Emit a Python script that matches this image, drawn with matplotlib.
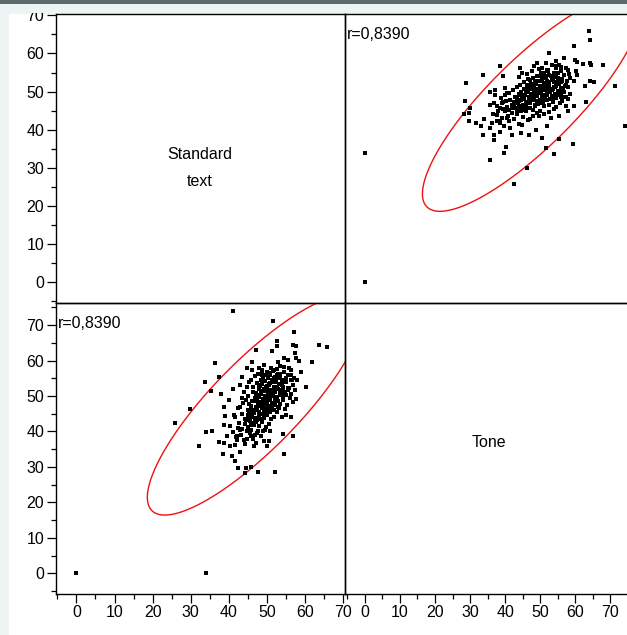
import numpy as np
import matplotlib
matplotlib.use("Agg")
import matplotlib.pyplot as plt
from matplotlib.patches import Rectangle
from matplotlib.ticker import MultipleLocator

plt.rcParams['font.family'] = ['Liberation Sans', 'DejaVu Sans']

# ---------------- data ----------------
variables = ["Standard\ntext", "Tone"]
correlation_label = "r=0,8390"

# (Standard text, Tone)
outlier_points = [(0.0, 0.0), (34.0, 0.0)]

periphery_points = [
    (41.1, 74.0), (51.6, 71.2), (57.0, 67.9), (52.5, 65.4), (52.7, 64.2),
    (51.4, 62.6), (47.2, 63.1), (56.9, 64.5), (57.5, 64.1), (63.6, 64.3),
    (65.8, 63.9), (57.3, 62.2), (57.7, 60.6), (61.9, 59.5), (58.4, 59.9),
    (55.5, 60.1), (54.4, 60.6), (52.8, 59.5), (46.1, 59.5), (53.5, 58.5),
    (36.3, 59.2), (37.5, 55.4), (33.7, 53.8), (35.2, 51.5), (29.9, 46.3),
    (25.8, 42.5), (34.0, 39.7), (35.6, 40.2), (32.1, 35.8), (38.5, 33.6),
    (40.9, 33.0), (42.8, 34.1), (41.7, 31.6), (42.4, 29.7), (45.7, 30.1),
    (44.4, 29.7), (44.2, 28.3), (47.6, 28.5), (52.2, 28.7), (54.4, 33.7),
    (56.8, 38.6), (54.2, 39.3), (56.2, 44.2), (57.5, 49.1), (60.1, 52.4),
    (57.9, 54.5), (58.8, 56.8), (54.9, 44.7), (50.0, 35.8), (50.5, 37.2),
    (46.5, 35.8), (38.7, 36.7), (37.4, 36.9), (39.5, 38.6), (41.1, 39.7),
    (40.4, 41.4), (38.7, 41.9), (39.1, 44.4), (41.3, 44.7), (38.7, 46.8),
    (40.0, 48.9), (37.8, 50.5), (41.1, 51.9), (43.0, 53.1), (43.5, 55.4),
    (44.8, 57.8), (46.1, 57.3), (48.7, 57.3), (48.7, 55.9), (50.0, 56.8),
    (50.9, 55.9), (51.8, 57.3), (53.5, 55.0), (54.4, 56.8), (56.2, 57.3),
    (56.6, 54.5), (55.7, 52.2), (53.5, 51.7), (54.4, 50.3), (52.7, 48.9),
    (51.8, 46.1), (49.2, 44.2), (47.4, 43.3), (45.7, 41.9), (44.8, 40.0),
    (43.0, 40.4), (42.2, 38.6), (45.7, 38.6), (47.4, 39.5), (49.6, 40.4),
    (50.9, 40.0), (49.2, 37.2), (47.0, 36.7), (43.9, 37.6), (42.2, 37.6),
    (41.7, 36.2), (40.4, 35.8),
]

# dense core of the cloud: per row, Standard text values and matching Tone values
core_standard = [
    [41.8, 42.3, 41.6, 42.5],
    [43.2, 42.7, 43.4, 42.9, 43.5],
    [44.1, 43.5, 44.2, 43.7, 44.0],
    [44.8, 44.3, 44.9, 45.0, 44.4, 44.7],
    [45.5, 45.1, 45.6, 45.3, 45.8, 45.0, 45.4],
    [46.3, 45.9, 46.4, 46.1, 45.7, 46.5, 46.2, 45.9],
    [46.9, 46.5, 47.1, 46.6, 47.0, 46.8, 47.2, 46.4, 46.9],
    [47.6, 47.2, 47.8, 47.3, 47.7, 47.5, 47.1, 47.9, 47.4, 47.6],
    [48.3, 47.9, 48.4, 48.0, 48.5, 48.2, 47.8, 48.6, 48.1, 48.4, 48.0],
    [49.0, 48.6, 49.2, 48.7, 49.1, 48.9, 48.5, 49.3, 48.8, 49.0, 48.6],
    [49.7, 49.3, 49.9, 49.4, 49.8, 49.6, 49.2, 50.0, 49.5, 49.7, 49.3],
    [50.4, 50.0, 50.6, 50.1, 50.5, 50.3, 49.9, 50.7, 50.2, 50.4],
    [51.1, 50.7, 51.3, 50.8, 51.2, 51.0, 50.6, 51.4, 50.9, 51.1],
    [51.8, 51.4, 52.0, 51.5, 51.9, 51.7, 51.3, 52.1, 51.6],
    [52.5, 52.1, 52.7, 52.2, 52.6, 52.4, 52.0, 52.8],
    [53.2, 52.8, 53.4, 52.9, 53.3, 53.1, 52.7],
    [53.9, 53.5, 54.1, 53.6, 54.0, 53.8, 53.4],
    [54.6, 54.2, 54.8, 54.3, 54.7, 54.5],
    [55.3, 54.9, 55.5, 55.0, 55.4],
    [56.0, 55.6, 56.2, 55.7],
    [56.7, 56.3, 56.9, 56.4],
    [57.4, 57.0],
]
core_tone = [
    [38.5, 41.0, 44.0, 46.5],
    [39.0, 42.5, 45.0, 47.0, 49.5],
    [36.5, 40.8, 43.5, 48.0, 51.0],
    [38.0, 42.0, 44.6, 46.0, 49.0, 52.5],
    [39.5, 41.2, 43.0, 45.5, 47.2, 50.0, 53.8],
    [37.8, 40.5, 42.4, 44.0, 46.3, 48.5, 51.0, 54.6],
    [39.0, 41.8, 43.7, 45.1, 47.0, 49.4, 50.8, 52.6, 55.5],
    [40.2, 42.6, 44.5, 46.0, 47.8, 49.0, 50.5, 52.0, 53.7, 56.2],
    [38.8, 41.5, 43.4, 45.4, 47.2, 48.3, 49.8, 51.3, 52.8, 54.5, 58.0],
    [40.0, 42.8, 44.9, 46.7, 48.0, 49.2, 50.6, 52.0, 53.4, 55.2, 57.0],
    [41.2, 43.8, 45.8, 47.4, 48.8, 50.1, 51.4, 52.7, 54.1, 55.8, 58.6],
    [42.2, 44.6, 46.5, 48.2, 49.6, 51.0, 52.3, 53.6, 55.0, 56.5],
    [43.4, 45.5, 47.3, 49.0, 50.4, 51.8, 53.1, 54.5, 56.0, 58.0],
    [44.2, 46.4, 48.4, 50.0, 51.3, 52.6, 54.0, 55.4, 57.0],
    [45.5, 47.4, 49.3, 51.0, 52.4, 53.8, 55.2, 56.3],
    [46.5, 48.6, 50.4, 52.0, 53.5, 55.0, 57.5],
    [44.0, 47.8, 49.6, 51.5, 53.0, 54.6, 56.1],
    [46.2, 49.0, 51.0, 52.6, 54.0, 58.2],
    [47.5, 50.2, 52.2, 53.8, 56.0],
    [49.5, 51.8, 54.6, 57.8],
    [48.3, 50.6, 53.2, 55.8],
    [51.6, 55.2],
]

# extra points filling the darkest centre of the cloud
center_points = [
    (46.0, 45.2), (46.8, 46.0), (47.5, 46.9), (48.2, 47.6), (48.9, 48.5),
    (49.6, 49.2), (50.3, 50.0), (51.0, 50.9), (51.7, 51.7), (52.4, 52.5),
    (53.1, 53.3), (53.8, 54.0), (45.3, 47.8), (46.1, 48.6), (46.9, 49.5),
    (47.6, 50.3), (48.3, 51.0), (49.1, 51.9), (49.8, 52.6), (50.5, 53.4),
    (51.2, 54.2), (51.9, 55.0), (52.6, 55.9), (46.9, 43.0), (47.6, 43.9),
    (48.4, 44.8), (49.1, 45.6), (49.8, 46.4), (50.6, 47.3), (51.3, 48.1),
    (52.0, 48.9), (52.7, 49.8), (53.4, 50.6), (54.1, 51.4), (44.6, 43.3),
    (45.4, 44.1), (50.6, 56.0), (53.0, 47.0), (48.0, 53.2), (55.0, 55.0),
]

# density ellipse parameters (95%)
ellipse_mean = (47.0, 47.5)     # (Standard text, Tone)
ellipse_sd = (11.6, 12.7)
ellipse_r = 0.8390
ellipse_level = 0.95

standard_limits = (-5.35, 70.4)
tone_limits = (-5.7, 76.3)
tick_values = [0, 10, 20, 30, 40, 50, 60, 70]

# ---------------- build arrays ----------------
pts = list(outlier_points) + list(periphery_points) + list(center_points)
for sl, tl in zip(core_standard, core_tone):
    for s, t in zip(sl, tl):
        pts.append((s, t))
standard_text = np.array([p[0] for p in pts])
tone = np.array([p[1] for p in pts])

c = np.sqrt(-2.0 * np.log(1.0 - ellipse_level))
th = np.linspace(0, 2 * np.pi, 400)
ell_s = ellipse_mean[0] + c * ellipse_sd[0] * np.cos(th)
ell_t = ellipse_mean[1] + c * ellipse_sd[1] * (ellipse_r * np.cos(th) +
                                               np.sqrt(1 - ellipse_r ** 2) * np.sin(th))

# ---------------- figure ----------------
W, H = 627, 635
BG = '#eef3f3'
fig = plt.figure(figsize=(W / 100, H / 100), dpi=100, facecolor=BG)
fig.patches.append(Rectangle((9 / W, 0), 1 - 9 / W, 1 - 13.5 / H, transform=fig.transFigure,
                             facecolor='white', edgecolor='none', zorder=-10))
# top strip drawn over the panels (the screenshot cuts the top label)
fig.add_artist(Rectangle((0, 1 - 13.3 / H), 1, 13.3 / H, transform=fig.transFigure,
                         facecolor=BG, edgecolor='none', zorder=10))
fig.add_artist(Rectangle((0, 1 - 3.5 / H), 1, 3.5 / H, transform=fig.transFigure,
                         facecolor='#5b6b6b', edgecolor='none', zorder=11))


def px_axes(left, right, top, bottom):
    return fig.add_axes([left / W, 1 - bottom / H, (right - left) / W, (bottom - top) / H])


L0, L1, R1 = 56.0, 344.8, 632.6
T0, T1, B1 = 13.8, 302.7, 593.5
ax_tl = px_axes(L0, L1, T0, T1)
ax_tr = px_axes(L1, R1, T0, T1)
ax_bl = px_axes(L0, L1, T1, B1)
ax_br = px_axes(L1, R1, T1, B1)

for ax in (ax_tl, ax_tr, ax_bl, ax_br):
    ax.set_facecolor('none')
    for sp in ax.spines.values():
        sp.set_linewidth(1.0)
        sp.set_color('black')
    ax.tick_params(which='both', direction='out', colors='black', labelsize=11.5,
                   width=0.9, pad=2)
    ax.tick_params(which='major', length=6.5)
    ax.tick_params(which='minor', length=3.5)
    ax.set_xticks([])
    ax.set_yticks([])

ax_tl.set_xlim(*standard_limits); ax_tl.set_ylim(*standard_limits)
ax_tr.set_xlim(*tone_limits); ax_tr.set_ylim(*standard_limits)
ax_bl.set_xlim(*standard_limits); ax_bl.set_ylim(*tone_limits)
ax_br.set_xlim(*tone_limits); ax_br.set_ylim(*tone_limits)

for ax in (ax_tl, ax_bl):
    ax.set_yticks(tick_values)
    ax.yaxis.set_minor_locator(MultipleLocator(5))
for ax in (ax_bl, ax_br):
    ax.set_xticks(tick_values)
    ax.xaxis.set_minor_locator(MultipleLocator(5))

# scatter panels
ax_tr.scatter(tone, standard_text, marker='s', s=11, c='black', linewidths=0, zorder=3)
ax_bl.scatter(standard_text, tone, marker='s', s=11, c='black', linewidths=0, zorder=3)
ax_tr.plot(ell_t, ell_s, color='#ee1111', lw=1.0, zorder=2)
ax_bl.plot(ell_s, ell_t, color='#ee1111', lw=1.0, zorder=2)

for ax in (ax_tr, ax_bl):
    ax.text(0.008, 0.912, correlation_label, transform=ax.transAxes, fontsize=11.5,
            ha='left', va='baseline', zorder=4)

ax_tl.text(0.498, 0.467, variables[0], transform=ax_tl.transAxes, fontsize=11.5,
           ha='center', va='center', linespacing=2.0)
ax_br.text(0.502, 0.518, variables[1], transform=ax_br.transAxes, fontsize=11.5,
           ha='center', va='center')

fig.savefig('out.png', dpi=100, facecolor=fig.get_facecolor())
